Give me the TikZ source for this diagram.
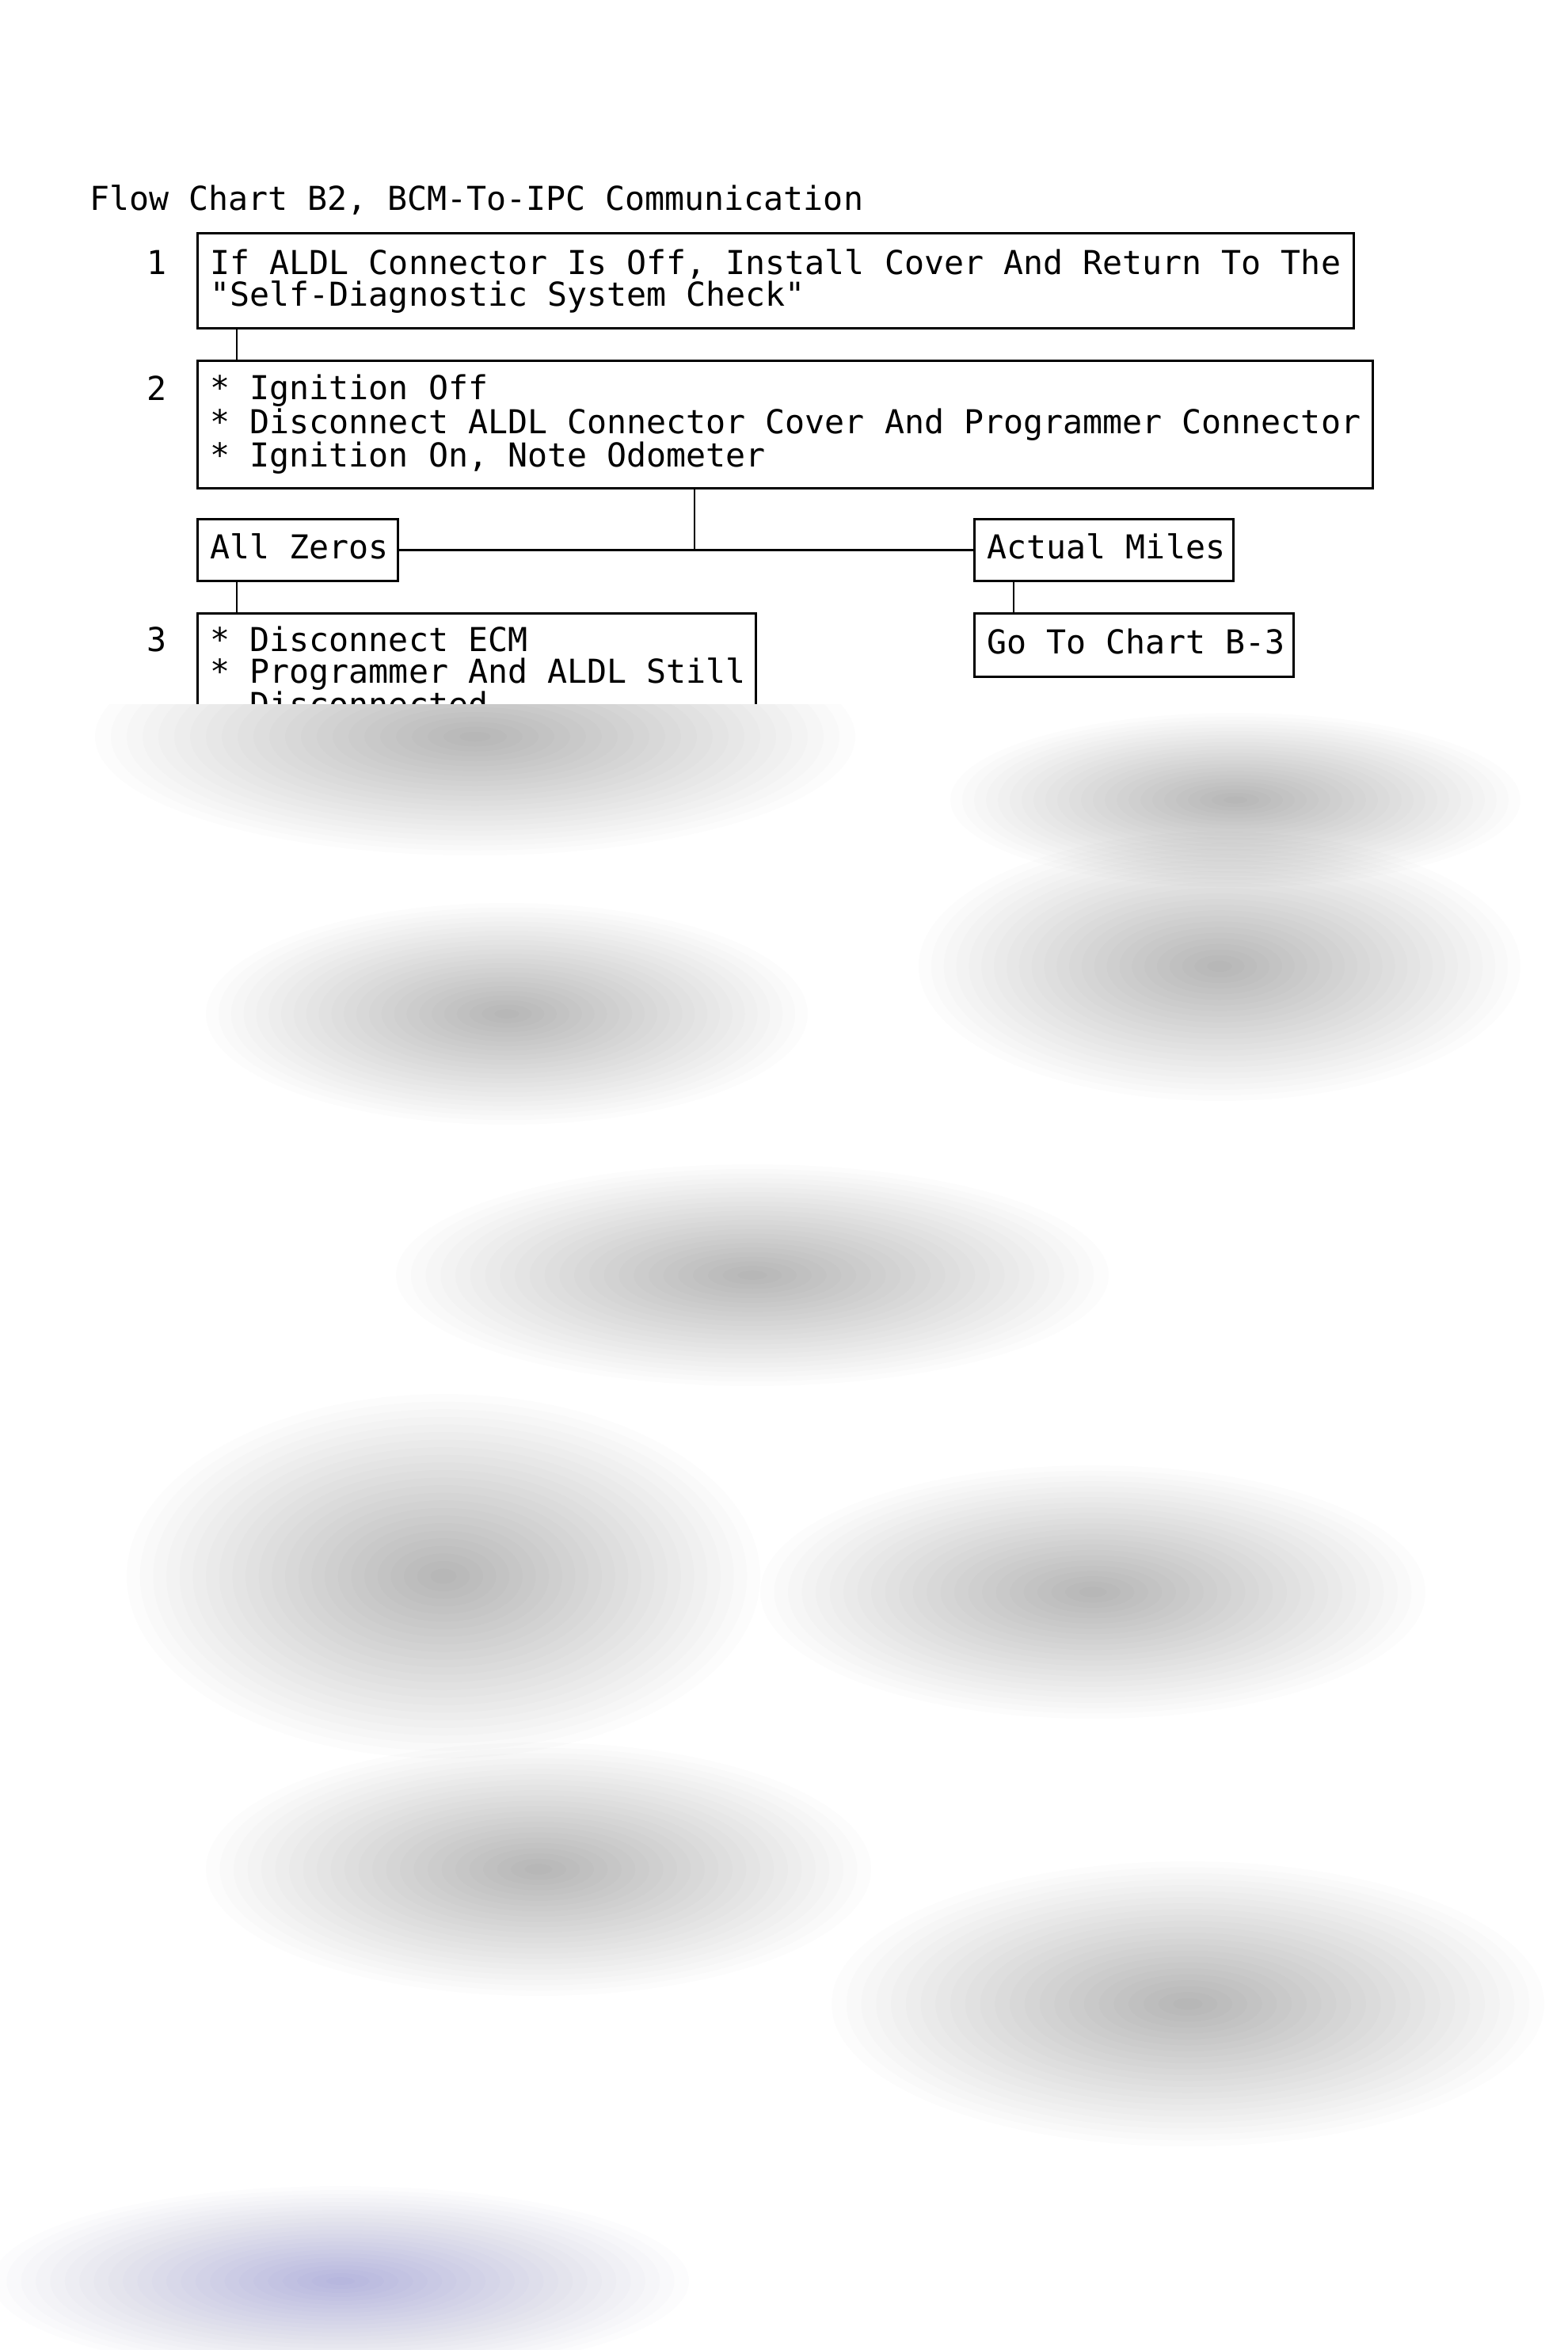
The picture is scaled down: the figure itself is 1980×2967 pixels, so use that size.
\documentclass[tikz,border=0pt]{standalone}
\usepackage{fontspec}
\newfontfamily\chartfont{DejaVu Sans Mono}
\newcommand\ms{\spaceskip=\fontdimen2\font\xspaceskip=\fontdimen2\font\relax}
\newcommand\rowtext[1]{\mbox{#1}}
\newcommand\softblob[5]{%
  \foreach \k in {1,...,24}{%
    \fill[#5, opacity=0.010] (#1,#2) ellipse [x radius={#3*\k/24}, y radius={#4*\k/24}];
  }}
\begin{document}
\begin{tikzpicture}[x=0.5pt,y=-0.5pt,
  every node/.style={font=\chartfont\fontsize{20.8pt}{20pt}\selectfont, inner sep=0pt},
  boxst/.style={draw, line width=1.6pt, anchor=north west, align=left, inner xsep=8pt, inner ysep=0pt},
  onebox/.style={boxst, text height=15pt, text depth=4.5pt},
  link/.style={line width=1.2pt},
  numst/.style={anchor=base west}]
\useasboundingbox (0,0) rectangle (1980,2967);
\fill[white] (0,0) rectangle (1980,2967);

% title
\node[anchor=base west] (title) at (113,265) {Flow Chart B2, BCM-To-IPC Communication};

% step numbers
\node[numst] (n1) at (185,346) {1};
\node[numst] (n2) at (185,505) {2};
\node[numst] (n3) at (185,822) {3};

% boxes
\node[boxst, text width=714pt, minimum height=60pt] (b1) at (248,293)
  {\ms\rowtext{If ALDL Connector Is Off, Install Cover And Return To The}\\
   \rowtext{"Self-Diagnostic System Check"}};
\node[boxst, text width=726pt, minimum height=80.5pt] (b2) at (248,454)
  {\ms\rowtext{* Ignition Off}\\
   \rowtext{* Disconnect ALDL Connector Cover And Programmer Connector}\\
   \rowtext{* Ignition On, Note Odometer}};
\node[onebox, text width=110.5pt, minimum height=39pt] (az) at (248,654) {\ms\rowtext{All Zeros}};
\node[onebox, text width=147.5pt, minimum height=39pt] (am) at (1229,654) {\ms\rowtext{Actual Miles}};
\node[onebox, text width=185.5pt, minimum height=40pt] (gt) at (1229,773) {\ms\rowtext{Go To Chart B-3}};
\node[boxst, text width=336.5pt, minimum height=73.4pt] (b3) at (248,773)
  {\ms\rowtext{* Disconnect ECM}\\
   \rowtext{* Programmer And ALDL Still}\\
   \rowtext{\phantom{* }Disconnected}};

% connectors
\draw[link] ([xshift=25.5pt]b1.south west) -- ([xshift=25.5pt]b2.north west);
\coordinate (t2) at ([xshift=314.5pt]b2.south west);
\draw[link] (t2) -- (t2 |- az.east);
\draw[link] (az.east) -- (am.west);
\draw[link] ([xshift=25.5pt]az.south west) -- ([xshift=25.5pt]b3.north west);
\draw[link] ([xshift=25.5pt]am.south west) -- ([xshift=25.5pt]gt.north west);

% blurred (unreadable) remainder of the chart
\fill[white] (0,889) rectangle (1980,2967);
\begin{scope}
\clip (0,889) rectangle (1980,2967);
\softblob{600}{930}{480}{150}{black}
\softblob{1560}{1010}{360}{110}{black}
\softblob{640}{1280}{380}{140}{black}
\softblob{1540}{1220}{380}{170}{black}
\softblob{950}{1610}{450}{140}{black}
\softblob{560}{1990}{400}{230}{black}
\softblob{1380}{2010}{420}{160}{black}
\softblob{680}{2360}{420}{160}{black}
\softblob{1500}{2530}{450}{180}{black}
\softblob{430}{2880}{440}{120}{blue!60!black}
\end{scope}
\end{tikzpicture}
\end{document}
